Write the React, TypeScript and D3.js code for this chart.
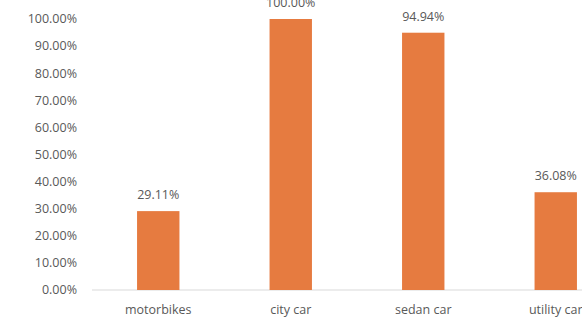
import React from "react";
import * as d3 from "d3";

const categories = ["motorbikes", "city car", "sedan car", "utility car"];
const shares = [29.11, 100.0, 94.94, 36.08];
const tickValues = [0, 10, 20, 30, 40, 50, 60, 70, 80, 90, 100];

const W = 582;
const H = 321;
const FONT = "'Open Sans', sans-serif";
const TEXT = "#595959";
const BAR = "#E67B40";

export default function App() {
  const x = d3
    .scaleBand<string>()
    .domain(categories)
    .range([92, 622])
    .paddingInner(0.68)
    .paddingOuter(0.34);
  const y = d3.scaleLinear().domain([0, 100]).range([290, 19]);
  const fmt = (v: number) => d3.format(".2f")(v) + "%";

  return (
    <svg
      width={W}
      height={H}
      style={{ position: "absolute", left: 0, top: 0, background: "#fff" }}
      fontFamily={FONT}
    >
      {tickValues.map((t) => (
        <text
          key={t}
          x={77}
          y={y(t)}
          dy="0.35em"
          textAnchor="end"
          fontSize={12.5}
          fill={TEXT}
        >
          {fmt(t)}
        </text>
      ))}
      <line x1={92} x2={W} y1={y(0)} y2={y(0)} stroke="#D9D9D9" strokeWidth={1} />
      {categories.map((c, i) => (
        <g key={c}>
          <rect
            x={x(c)}
            y={y(shares[i])}
            width={x.bandwidth()}
            height={y(0) - y(shares[i])}
            fill={BAR}
          />
          <text
            x={x(c)! + x.bandwidth() / 2}
            y={y(shares[i]) - 12}
            textAnchor="middle"
            fontSize={12.5}
            fill={TEXT}
          >
            {fmt(shares[i])}
          </text>
          <text
            x={x(c)! + x.bandwidth() / 2}
            y={314}
            textAnchor="middle"
            fontSize={12.5}
            fill={TEXT}
          >
            {c}
          </text>
        </g>
      ))}
    </svg>
  );
}
